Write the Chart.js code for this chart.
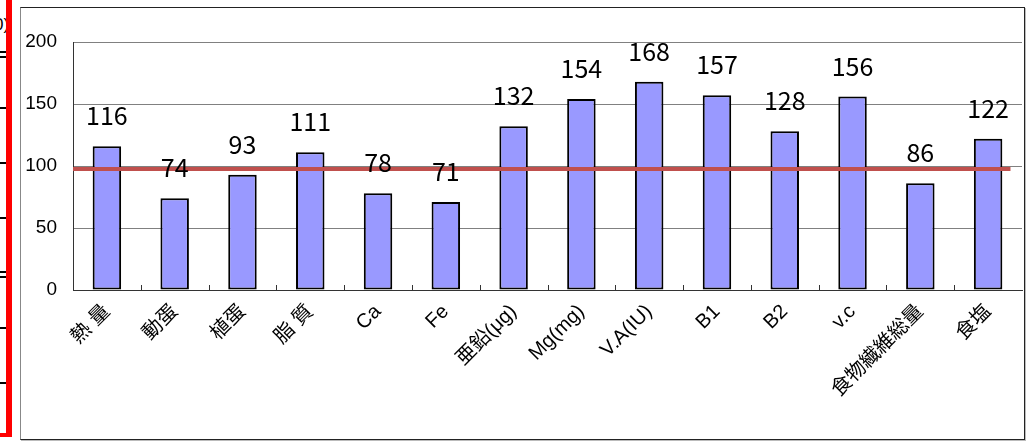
<!DOCTYPE html>
<html>
<head>
<meta charset="utf-8">
<script src="https://cdn.jsdelivr.net/npm/chart.js@4/dist/chart.umd.min.js"></script>
<style>
  html, body { margin: 0; padding: 0; background: #fff; width: 1027px; height: 443px; overflow: hidden; }
  .redv { position: absolute; left: 6px; top: 0; width: 6px; height: 437px; background: #ff0000; }
  .redh { position: absolute; left: 0; top: 433px; width: 12px; height: 4px; background: #ff0000; }
  .mark { position: absolute; left: 0; width: 6px; height: 2px; background: #000; }
  .cut { position: absolute; left: -6px; top: 15px; font: 17px "Liberation Sans", sans-serif; color: #000; }
  #frame { position: absolute; left: 20px; top: 7px; width: 1003px; height: 431px;
           border: 1px solid #222; border-left-color: #888; box-shadow: 1px 1px 0 #bbb; background: #fff; }
  #frame canvas { display: block; }
</style>
</head>
<body>
<span class="cut">0)</span>
<div class="redv"></div>
<div class="redh"></div>
<div class="mark" style="top:51px"></div>
<div class="mark" style="top:56px"></div>
<div class="mark" style="top:107px"></div>
<div class="mark" style="top:162px"></div>
<div class="mark" style="top:217px"></div>
<div class="mark" style="top:271px"></div>
<div class="mark" style="top:276px"></div>
<div class="mark" style="top:327px"></div>
<div class="mark" style="top:382px"></div>
<div id="frame"><canvas id="chart" width="1003" height="431"></canvas></div>

<script>
// Nutrient intake items and their ratio to the recommended amount (%)
const categories = ['熱 量', '動蛋', '植蛋', '脂 質', 'Ca', 'Fe', '亜鉛(μg)', 'Mg(mg)', 'V.A(IU)', 'B1', 'B2', 'v.c', '食物繊維総量', '食塩'];
const values = [116, 74, 93, 111, 78, 71, 132, 154, 168, 157, 128, 156, 86, 122];
const yTicks = [0, 50, 100, 150, 200];

// Reference level line (about 100%) and the span it covers in category units
const refLevel = [97.6, 97.6];
const refSpan = [0, 13.83];

const BAR_FILL = '#9999FF';
const REF_COLOR = '#C0504D';
const GRID_COLOR = '#808080';
const AXIS_COLOR = '#333333';

// Value labels above each bar
const valueLabels = {
  id: 'valueLabels',
  afterDatasetsDraw(chart) {
    const meta = chart.getDatasetMeta(0);
    const ctx = chart.ctx;
    ctx.save();
    ctx.font = '25px "Noto Sans CJK JP", "Liberation Sans", sans-serif';
    ctx.fillStyle = '#000';
    ctx.textAlign = 'center';
    ctx.textBaseline = 'alphabetic';
    meta.data.forEach((bar, i) => {
      ctx.fillText(String(values[i]), bar.x, bar.y - 21);
    });
    ctx.restore();
  }
};

// Short inward tick marks between categories on the bottom axis
const innerTicks = {
  id: 'innerTicks',
  afterDraw(chart) {
    const x = chart.scales.x;
    const ctx = chart.ctx;
    const bottom = chart.chartArea.bottom;
    ctx.save();
    ctx.strokeStyle = AXIS_COLOR;
    ctx.lineWidth = 1;
    for (let i = 1; i < categories.length; i++) {
      const px = Math.round(x.getPixelForValue(i - 0.5)) + 0.5;
      ctx.beginPath();
      ctx.moveTo(px, bottom);
      ctx.lineTo(px, bottom - 5);
      ctx.stroke();
    }
    ctx.restore();
  }
};

new Chart(document.getElementById('chart'), {
  data: {
    labels: categories,
    datasets: [
      {
        type: 'bar',
        data: values,
        backgroundColor: BAR_FILL,
        borderColor: '#000',
        borderWidth: 2,
        borderSkipped: false,
        grouped: false,
        categoryPercentage: 1,
        barPercentage: 0.42,
        order: 1
      },
      {
        type: 'line',
        xAxisID: 'xr',
        data: refSpan.map((x, i) => ({ x, y: refLevel[i] })),
        borderColor: REF_COLOR,
        borderWidth: 4,
        pointRadius: 0,
        fill: false,
        order: 0
      }
    ]
  },
  options: {
    responsive: false,
    animation: false,
    events: [],
    layout: { padding: { top: 34, right: 2, left: 0, bottom: 0 } },
    plugins: { legend: { display: false }, tooltip: { enabled: false } },
    scales: {
      x: {
        type: 'category',
        offset: true,
        grid: { display: false, drawTicks: false },
        border: { display: true, color: AXIS_COLOR, width: 1 },
        ticks: {
          maxRotation: 45,
          minRotation: 45,
          autoSkip: false,
          padding: 10,
          color: '#000',
          font: { family: '"Liberation Sans", "Noto Sans CJK JP", sans-serif', size: 20 }
        },
        afterFit(scale) { scale.height = 149; }
      },
      xr: {
        type: 'linear',
        display: false,
        min: 0,
        max: categories.length
      },
      y: {
        type: 'linear',
        min: yTicks[0],
        max: yTicks[yTicks.length - 1],
        afterBuildTicks(scale) { scale.ticks = yTicks.map(v => ({ value: v })); },
        grid: { color: GRID_COLOR, lineWidth: 1, drawTicks: false },
        border: { display: true, color: AXIS_COLOR, width: 1 },
        ticks: {
          padding: 16,
          color: '#000',
          font: { family: '"Liberation Sans", sans-serif', size: 19 }
        },
        afterFit(scale) { scale.width = 52; }
      }
    }
  },
  plugins: [valueLabels, innerTicks]
});
</script>
</body>
</html>
